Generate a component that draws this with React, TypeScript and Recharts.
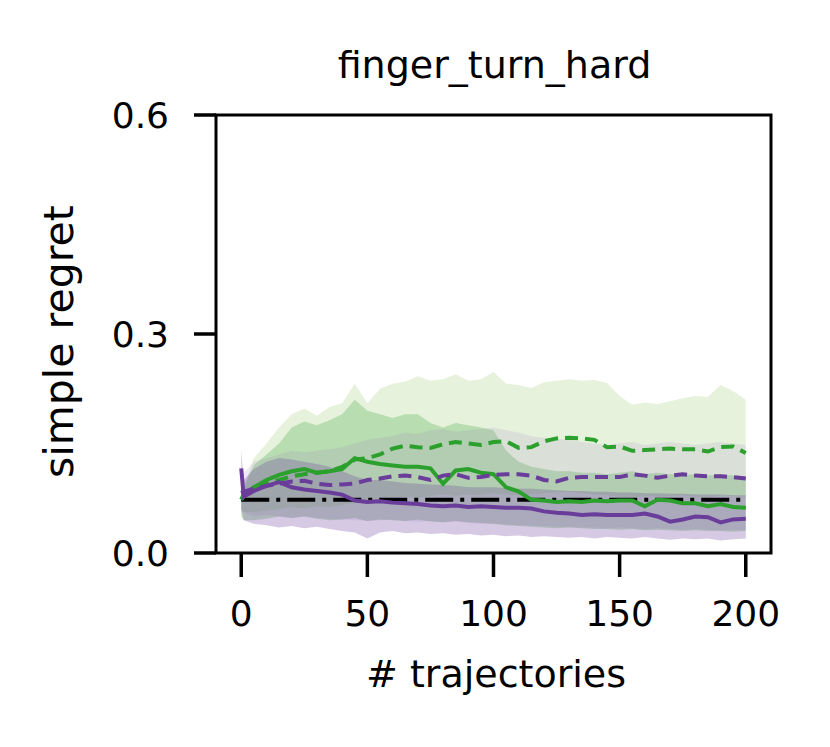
import React from 'react';
import { ComposedChart, Area, Line, XAxis, YAxis, ReferenceArea } from 'recharts';

const xs = [0, 1, 5, 10, 15, 20, 25, 30, 35, 40,
  45, 50, 55, 60, 65, 70, 75, 80, 85, 90,
  95, 100, 105, 110, 115, 120, 125, 130, 135, 140,
  145, 150, 155, 160, 165, 170, 175, 180, 185, 190,
  195, 200];

const gdMean = [0.073, 0.078, 0.088, 0.095, 0.1, 0.105, 0.108, 0.11, 0.112, 0.118,
  0.128, 0.13, 0.135, 0.143, 0.147, 0.145, 0.144, 0.149, 0.152, 0.15,
  0.148, 0.152, 0.153, 0.144, 0.145, 0.153, 0.157, 0.158, 0.157, 0.155,
  0.145, 0.146, 0.14, 0.141, 0.142, 0.143, 0.142, 0.142, 0.139, 0.145,
  0.146, 0.137];
const gdHi = [0.085, 0.09, 0.13, 0.15, 0.172, 0.19, 0.198, 0.188, 0.2, 0.205,
  0.232, 0.205, 0.225, 0.232, 0.235, 0.242, 0.236, 0.238, 0.245, 0.236,
  0.238, 0.248, 0.232, 0.23, 0.226, 0.234, 0.236, 0.238, 0.236, 0.237,
  0.233, 0.215, 0.203, 0.206, 0.204, 0.208, 0.212, 0.215, 0.214, 0.23,
  0.222, 0.21];
const gdLo = [0.058, 0.056, 0.056, 0.058, 0.06, 0.063, 0.061, 0.064, 0.063, 0.066,
  0.068, 0.07, 0.072, 0.074, 0.077, 0.075, 0.078, 0.08, 0.078, 0.08,
  0.079, 0.082, 0.08, 0.079, 0.08, 0.082, 0.083, 0.084, 0.082, 0.08,
  0.079, 0.077, 0.076, 0.078, 0.077, 0.078, 0.079, 0.077, 0.076, 0.079,
  0.078, 0.076];

const gsMean = [0.073, 0.08, 0.09, 0.1, 0.107, 0.112, 0.115, 0.11, 0.112, 0.115,
  0.13, 0.125, 0.122, 0.12, 0.118, 0.118, 0.116, 0.095, 0.113, 0.115,
  0.11, 0.108, 0.09, 0.084, 0.073, 0.072, 0.07, 0.071, 0.07, 0.072,
  0.071, 0.072, 0.072, 0.064, 0.073, 0.072, 0.068, 0.068, 0.064, 0.067,
  0.063, 0.062];
const gsHi = [0.085, 0.09, 0.12, 0.135, 0.15, 0.172, 0.18, 0.175, 0.182, 0.19,
  0.21, 0.195, 0.19, 0.185, 0.19, 0.19, 0.178, 0.172, 0.178, 0.175,
  0.172, 0.168, 0.14, 0.125, 0.118, 0.115, 0.112, 0.112, 0.11, 0.11,
  0.108, 0.11, 0.112, 0.108, 0.11, 0.108, 0.107, 0.108, 0.106, 0.108,
  0.106, 0.105];
const gsLo = [0.05, 0.045, 0.045, 0.047, 0.05, 0.048, 0.05, 0.047, 0.045, 0.046,
  0.048, 0.044, 0.046, 0.045, 0.044, 0.046, 0.043, 0.042, 0.044, 0.042,
  0.041, 0.04, 0.038, 0.037, 0.036, 0.035, 0.034, 0.035, 0.034, 0.033,
  0.033, 0.032, 0.033, 0.031, 0.032, 0.031, 0.03, 0.031, 0.03, 0.03,
  0.029, 0.03];

const pdMean = [0.082, 0.084, 0.088, 0.092, 0.095, 0.098, 0.099, 0.095, 0.093, 0.094,
  0.095, 0.1, 0.102, 0.105, 0.106, 0.104, 0.1, 0.106, 0.108, 0.103,
  0.104, 0.107, 0.108, 0.108, 0.106, 0.1, 0.098, 0.103, 0.104, 0.104,
  0.104, 0.104, 0.108, 0.106, 0.103, 0.106, 0.108, 0.106, 0.105, 0.105,
  0.104, 0.102];
const pdHi = [0.1, 0.11, 0.125, 0.13, 0.135, 0.14, 0.138, 0.14, 0.142, 0.145,
  0.15, 0.155, 0.158, 0.16, 0.165, 0.163, 0.168, 0.17, 0.166, 0.168,
  0.17, 0.172, 0.168, 0.165, 0.16, 0.158, 0.156, 0.155, 0.152, 0.15,
  0.148, 0.15, 0.152, 0.148, 0.15, 0.152, 0.15, 0.148, 0.15, 0.152,
  0.15, 0.148];
const pdLo = [0.06, 0.055, 0.05, 0.052, 0.05, 0.048, 0.05, 0.048, 0.047, 0.046,
  0.045, 0.044, 0.045, 0.046, 0.044, 0.043, 0.044, 0.042, 0.043, 0.041,
  0.04, 0.04, 0.039, 0.038, 0.038, 0.037, 0.036, 0.036, 0.035, 0.035,
  0.034, 0.035, 0.034, 0.033, 0.034, 0.033, 0.032, 0.033, 0.032, 0.031,
  0.032, 0.031];

const psMean = [0.116, 0.077, 0.085, 0.092, 0.097, 0.09, 0.087, 0.085, 0.083, 0.08,
  0.072, 0.07, 0.071, 0.069, 0.068, 0.067, 0.065, 0.064, 0.065, 0.063,
  0.064, 0.063, 0.062, 0.062, 0.061, 0.057, 0.055, 0.054, 0.052, 0.053,
  0.052, 0.052, 0.052, 0.054, 0.05, 0.043, 0.046, 0.05, 0.049, 0.042,
  0.046, 0.047];
const psHi = [0.14, 0.1, 0.115, 0.125, 0.13, 0.128, 0.125, 0.122, 0.118, 0.112,
  0.105, 0.1, 0.1, 0.098, 0.096, 0.095, 0.094, 0.093, 0.092, 0.09,
  0.09, 0.09, 0.089, 0.088, 0.088, 0.087, 0.086, 0.085, 0.085, 0.084,
  0.084, 0.083, 0.083, 0.082, 0.082, 0.081, 0.081, 0.08, 0.08, 0.08,
  0.079, 0.079];
const psLo = [0.06, 0.045, 0.04, 0.038, 0.035, 0.037, 0.034, 0.036, 0.033, 0.03,
  0.028, 0.02, 0.028, 0.03, 0.027, 0.028, 0.026, 0.027, 0.025, 0.026,
  0.024, 0.025, 0.023, 0.024, 0.022, 0.023, 0.022, 0.021, 0.022, 0.02,
  0.022, 0.021, 0.02, 0.022, 0.02, 0.018, 0.02, 0.019, 0.02, 0.017,
  0.019, 0.02];

const baselineValue = 0.073;

const xTicks = [0, 50, 100, 150, 200];
const yTicks = [0, 0.3, 0.6];

const title = 'finger_turn_hard';
const xLabel = '# trajectories';
const yLabel = 'simple regret';

const data = xs.map((x, i) => ({
  x,
  gdBand: [gdLo[i], gdHi[i]],
  gsBand: [gsLo[i], gsHi[i]],
  pdBand: [pdLo[i], pdHi[i]],
  psBand: [psLo[i], psHi[i]],
  gd: gdMean[i],
  gs: gsMean[i],
  pd: pdMean[i],
  ps: psMean[i],
  base: baselineValue,
}));

const GREEN = '#2ca02c';
const PURPLE = '#6a3d9a';
const FONT = '"DejaVu Sans", sans-serif';

export default function App() {
  return (
    <div style={{ position: 'absolute', left: 0, top: 0, width: 830, height: 747, background: '#fff' }}>
      <ComposedChart width={830} height={747} data={data} margin={{ top: 115, right: 59, bottom: 0, left: 0 }}>
        <XAxis
          dataKey="x"
          type="number"
          domain={[-10, 210]}
          ticks={xTicks}
          allowDataOverflow
          height={194}
          tickSize={24}
          tickMargin={23}
          axisLine={false}
          tickLine={{ stroke: '#000', strokeWidth: 3.5 }}
          tick={{ fontSize: 36, fill: '#000', fontFamily: FONT }}
        />
        <YAxis
          type="number"
          domain={[0, 0.6]}
          ticks={yTicks}
          allowDataOverflow
          width={216}
          tickSize={22}
          tickMargin={25}
          axisLine={false}
          tickLine={{ stroke: '#000', strokeWidth: 3.5 }}
          tick={{ fontSize: 36, fill: '#000', fontFamily: FONT }}
          tickFormatter={(v: number) => v.toFixed(1)}
        />
        <Area dataKey="gdBand" type="linear" stroke="none" fill="#82be50" fillOpacity={0.2} isAnimationActive={false} />
        <Area dataKey="gsBand" type="linear" stroke="none" fill={GREEN} fillOpacity={0.25} isAnimationActive={false} />
        <Area dataKey="pdBand" type="linear" stroke="none" fill="#9a6fc0" fillOpacity={0.15} isAnimationActive={false} />
        <Area dataKey="psBand" type="linear" stroke="none" fill={PURPLE} fillOpacity={0.28} isAnimationActive={false} />
        <Line dataKey="base" type="linear" stroke="#000" strokeWidth={4} strokeDasharray="28 7 4 7" dot={false} isAnimationActive={false} />
        <Line dataKey="gd" type="linear" stroke={GREEN} strokeWidth={4} strokeDasharray="13 7" dot={false} isAnimationActive={false} />
        <Line dataKey="gs" type="linear" stroke={GREEN} strokeWidth={4} dot={false} isAnimationActive={false} />
        <Line dataKey="pd" type="linear" stroke={PURPLE} strokeWidth={4} strokeDasharray="13 7" dot={false} isAnimationActive={false} />
        <Line dataKey="ps" type="linear" stroke={PURPLE} strokeWidth={4} dot={false} isAnimationActive={false} />
        <ReferenceArea x1={-10} x2={210} y1={0} y2={0.6} fill="none" stroke="#000" strokeWidth={3} ifOverflow="extendDomain" />
      </ComposedChart>
      <svg width={830} height={747} style={{ position: 'absolute', left: 0, top: 0, pointerEvents: 'none' }}>
        <text x={494.5} y={78} textAnchor="middle" fontSize={38} fontFamily={FONT} fill="#000">{title}</text>
        <text x={496} y={687} textAnchor="middle" fontSize={38} fontFamily={FONT} fill="#000">{xLabel}</text>
        <text transform="translate(73,341.5) rotate(-90)" textAnchor="middle" fontSize={41} fontFamily={FONT} fill="#000">{yLabel}</text>
      </svg>
    </div>
  );
}
